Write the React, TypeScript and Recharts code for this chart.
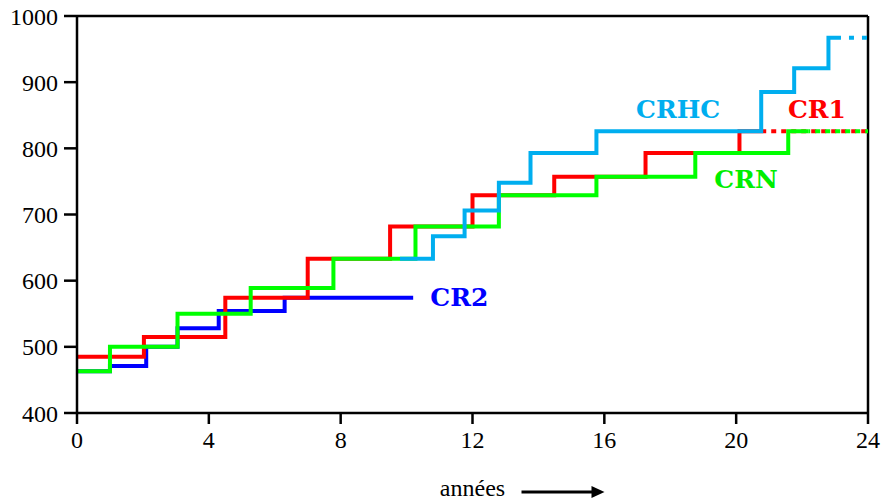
import React from 'react';
import {
  LineChart,
  Line,
  XAxis,
  YAxis,
  ReferenceLine,
  ReferenceDot,
} from 'recharts';

// step points: each value holds from its year until the next one
const cr2Years = [0, 1, 2.1, 3.05, 4.3, 6.3, 10.2];
const cr2Values = [463, 471, 500, 528, 554, 574, 574];

const cr1Years = [0, 2.03, 4.5, 7.0, 9.5, 12.0, 14.48, 17.25, 20.1, 20.76];
const cr1Values = [485, 515, 574, 633, 682, 729, 757, 793, 826, 826];
const cr1DashYears = [20.76, 24];
const cr1DashValues = [826, 826];

const crnYears = [0, 1, 3.05, 5.27, 7.78, 10.27, 12.8, 15.76, 18.76, 21.58, 22.2];
const crnValues = [463, 500, 550, 589, 633, 682, 729, 757, 793, 826, 826];
const crnDashYears = [22.2, 24];
const crnDashValues = [826, 826];

const crhcYears = [9.8, 10.8, 11.76, 12.8, 13.76, 15.76, 20.76, 21.76, 22.8, 23.18];
const crhcValues = [633, 667, 706, 748, 793, 826, 885, 921, 967, 967];
const crhcDashYears = [23.18, 24];
const crhcDashValues = [967, 967];

const xTicks = [0, 4, 8, 12, 16, 20, 24];
const yTicks = [400, 500, 600, 700, 800, 900, 1000];

const seriesLabels = [
  { text: 'CRHC', x: 18.24, y: 859, color: '#00aeef' },
  { text: 'CR1', x: 22.45, y: 859, color: '#ff0000' },
  { text: 'CRN', x: 20.3, y: 753, color: '#00ee00' },
  { text: 'CR2', x: 11.6, y: 574, color: '#0000ff' },
];

const RED = '#ff0000';
const GREEN = '#00ff00';
const BLUE = '#0000ff';
const CYAN = '#00aeef';

const serif = '"Liberation Serif", "Times New Roman", serif';
const boldSerif = '"DejaVu Serif", serif';

const pts = (xs: number[], ys: number[]) => xs.map((x, i) => ({ x, y: ys[i] }));

const AxisTitle = (props: any) => {
  const vb = props.viewBox || {};
  const cx = vb.x + vb.width / 2;
  const base = vb.y + 83;
  const ay = vb.y + 79;
  return (
    <g>
      <text x={cx} y={base} textAnchor="middle" fontFamily={serif} fontSize={24} fill="#000">
        années
      </text>
      <line x1={cx + 49} y1={ay} x2={cx + 124} y2={ay} stroke="#000" strokeWidth={3} />
      <polygon
        points={`${cx + 119},${ay - 6} ${cx + 132},${ay} ${cx + 119},${ay + 6}`}
        fill="#000"
      />
    </g>
  );
};

const SeriesLabel = ({ text, color }: { text: string; color: string }) => (props: any) => {
  const vb = props.viewBox || {};
  const x = vb.x + (vb.width || 0) / 2;
  const y = vb.y + (vb.height || 0) / 2;
  return (
    <text
      x={x}
      y={y}
      textAnchor="middle"
      dominantBaseline="central"
      fontFamily={boldSerif}
      fontWeight="bold"
      fontSize={25}
      fill={color}
    >
      {text}
    </text>
  );
};

export default function App() {
  const lineProps = {
    type: 'stepAfter' as const,
    dataKey: 'y',
    dot: false,
    activeDot: false,
    strokeWidth: 4,
    isAnimationActive: false,
  };

  return (
    <div style={{ position: 'absolute', left: 0, top: 0, width: 883, height: 501, background: '#fff' }}>
      <LineChart width={883} height={501} margin={{ top: 16, right: 15, bottom: 0, left: 0 }}>
        <XAxis
          dataKey="x"
          type="number"
          domain={[0, 24]}
          ticks={xTicks}
          height={88}
          axisLine={{ stroke: '#000', strokeWidth: 2.5 }}
          tickLine={{ stroke: '#000', strokeWidth: 2.5 }}
          tickSize={11}
          tickMargin={7}
          tick={{ fill: '#000', fontSize: 24, fontFamily: serif }}
          label={(p: any) => <AxisTitle {...p} />}
        />
        <YAxis
          type="number"
          domain={[400, 1000]}
          ticks={yTicks}
          width={77}
          axisLine={{ stroke: '#000', strokeWidth: 2.5 }}
          tickLine={{ stroke: '#000', strokeWidth: 2.5 }}
          tickSize={13}
          tickMargin={6}
          tick={{ fill: '#000', fontSize: 24, fontFamily: serif }}
        />
        <ReferenceLine y={1000} stroke="#000" strokeWidth={2.5} />
        <ReferenceLine x={24} stroke="#000" strokeWidth={2.5} />

        <Line {...lineProps} data={pts(cr2Years, cr2Values)} stroke={BLUE} />
        <Line {...lineProps} data={pts(cr1Years, cr1Values)} stroke={RED} />
        <Line {...lineProps} data={pts(cr1DashYears, cr1DashValues)} stroke={RED} strokeDasharray="5 5" />
        <Line {...lineProps} data={pts(crnYears, crnValues)} stroke={GREEN} />
        <Line
          {...lineProps}
          data={pts(crnDashYears, crnDashValues)}
          stroke={GREEN}
          strokeDasharray="5 5"
          strokeDashoffset={3.5}
        />
        <Line {...lineProps} data={pts(crhcYears, crhcValues)} stroke={CYAN} />
        <Line
          {...lineProps}
          data={pts(crhcDashYears, crhcDashValues)}
          stroke={CYAN}
          strokeDasharray="5 8"
          strokeDashoffset={5}
        />

        {seriesLabels.map((l) => (
          <ReferenceDot
            key={l.text}
            x={l.x}
            y={l.y}
            r={0}
            fill="none"
            stroke="none"
            label={SeriesLabel({ text: l.text, color: l.color })}
          />
        ))}
      </LineChart>
    </div>
  );
}
